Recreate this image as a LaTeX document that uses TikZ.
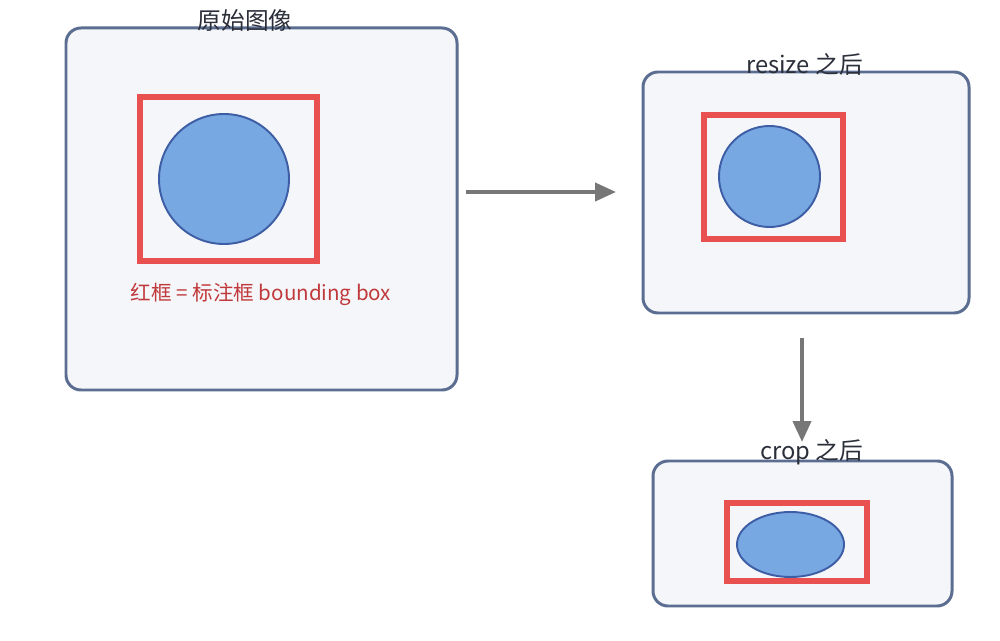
\documentclass[tikz,border=0pt]{standalone}
\usepackage{fontspec}
\setmainfont{Noto Sans CJK SC}
\usetikzlibrary{arrows.meta,positioning,shapes.geometric}
\definecolor{panelline}{RGB}{91,110,145}
\definecolor{panelfill}{RGB}{245,246,250}
\definecolor{boxred}{RGB}{233,80,80}
\definecolor{blobfill}{RGB}{120,168,226}
\definecolor{blobline}{RGB}{61,93,165}
\definecolor{arrowgray}{RGB}{119,119,119}
\definecolor{titletext}{RGB}{43,47,58}
\definecolor{notered}{RGB}{192,57,59}
\tikzset{
    panel/.style={
        draw=panelline,
        fill=panelfill,
        line width=1.7pt,
        rounded corners=0.3cm,
        inner sep=0pt
    },
    % red annotation frame
    redbox/.style={
        draw=boxred,
        line width=3pt,
        inner sep=0pt
    },
    blob/.style={
        draw=blobline,
        fill=blobfill,
        line width=1.1pt,
        inner sep=0pt
    },
    grayarrow/.style={
        line width=2.3pt,
        arrowgray,
        -{Triangle[length=0.42cm, width=0.36cm]}
    },
    title/.style={
        text=titletext,
        inner sep=0pt,
        font=\fontsize{13.5}{15}\selectfont
    }
}
\begin{document}
\begin{tikzpicture}[x=0.02cm, y=-0.02cm]
    \useasboundingbox[fill=white] (0,0) rectangle (1000,641);

    % original image
    \node[panel, minimum width=391*0.02cm, minimum height=362*0.02cm] (orig) at (261.5,209) {};
    \node[redbox, minimum width=177*0.02cm, minimum height=164*0.02cm] (origbox) at (228.5,179) {};
    \node[blob, circle, minimum size=130*0.02cm] (origobj) at (224,179) {};
    \node[title] (origtitle) at (245,20) {原始图像};
    \node[text=notered, inner sep=0pt, font=\fontsize{11.7}{13}\selectfont] (note) at (261,294) {红框 = 标注框 bounding box};

    % after resize
    \node[panel, minimum width=326*0.02cm, minimum height=241*0.02cm] (resized) at (806,192.5) {};
    \node[redbox, minimum width=139*0.02cm, minimum height=124*0.02cm] (resizedbox) at (773.5,177) {};
    \node[blob, circle, minimum size=101*0.02cm] (resizedobj) at (769.5,176.5) {};
    \node[title] (resizedtitle) at (804.5,64) {resize 之后};

    % after crop
    \node[panel, minimum width=299*0.02cm, minimum height=145*0.02cm] (cropped) at (802.5,533.5) {};
    \node[redbox, minimum width=140*0.02cm, minimum height=78*0.02cm] (croppedbox) at (797,542) {};
    \node[blob, ellipse, minimum width=107*0.02cm, minimum height=65*0.02cm] (croppedobj) at (790.5,544.5) {};
    \node[title] (croppedtitle) at (811.5,452) {crop 之后};

    \coordinate (s1) at (466,192);
    \coordinate (e1) at (616,192);
    \coordinate (s2) at (802,338);
    \coordinate (e2) at (802,442);
    \draw[grayarrow] (s1) -- (e1);
    \draw[grayarrow] (s2) -- (e2);
\end{tikzpicture}
\end{document}
